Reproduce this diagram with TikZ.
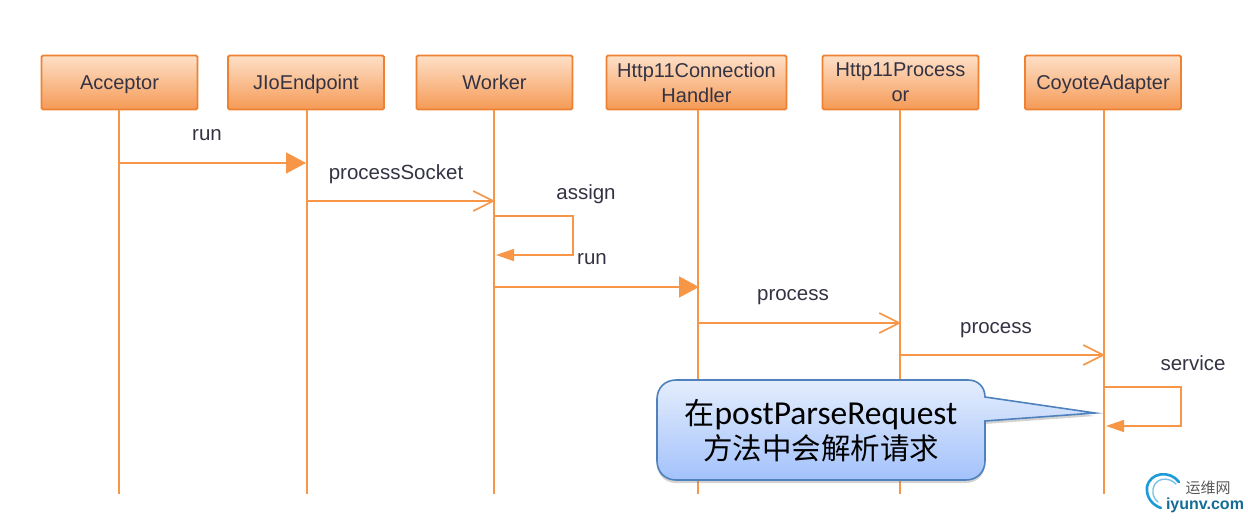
\documentclass[tikz,border=0pt]{standalone}
\usepackage{xcolor}
\usepackage{fontspec}
\setmainfont{Liberation Sans}
\newfontfamily\cjk{Noto Sans CJK SC}
\newfontfamily\callfont{Carlito}
\usetikzlibrary{arrows.meta,shadows}
\definecolor{lifeorange}{HTML}{F79646}
\definecolor{boxedge}{HTML}{EE8232}
\definecolor{boxtop}{HTML}{FEE0C8}
\definecolor{boxbottom}{HTML}{F59A55}
\definecolor{labelgray}{HTML}{333344}
\definecolor{noteedge}{HTML}{4F81BD}
\definecolor{notetop}{HTML}{E4EDFD}
\definecolor{notebottom}{HTML}{A3C2FB}
\definecolor{logoblue}{HTML}{1C9BD8}
\tikzset{
	classbox/.style={draw=boxedge,line width=1.8pt,rounded corners=1.5pt,top color=boxtop,bottom color=boxbottom,
		minimum height=54pt,inner sep=0pt,align=center,text=labelgray,font=\fontsize{20}{25}\selectfont},
	onelinebox/.style={classbox,execute at begin node={\rule[-4.5pt]{0pt}{23.5pt}}},
	twolinebox/.style={classbox,execute at begin node={\rule{0pt}{20pt}}},
	lifeline/.style={draw=lifeorange,line width=1.6pt},
	syncmsg/.style={draw=lifeorange,line width=1.6pt,-{Triangle[length=20pt,width=21pt]}},
	asyncmsg/.style={draw=lifeorange,line width=1.6pt,-{Straight Barb[length=20pt,width=20pt,line width=1.6pt]}},
	selfmsg/.style={draw=lifeorange,line width=1.6pt,-{Triangle[length=18pt,width=12pt]}},
	msglabel/.style={text=labelgray,font=\fontsize{20.5}{24}\selectfont,inner sep=0pt}
}
\begin{document}
\begin{tikzpicture}[x=1pt,y=-1pt]
	\useasboundingbox (0,0) rectangle (1248,521);
	
	% Define the class boxes
	\node[onelinebox,minimum width=156pt] (acceptor) at (119.5,82.5) {Acceptor};
	\node[onelinebox,minimum width=156pt] (endpoint) at (306,82.5) {JIoEndpoint};
	\node[onelinebox,minimum width=156pt] (worker) at (494.5,82.5) {Worker};
	\node[twolinebox,minimum width=180pt] (handler) at (696.5,82.5) {Http11Connection\\Handler};
	\node[twolinebox,minimum width=156pt] (processor) at (900.5,82.5) {Http11Process\\or};
	\node[onelinebox,minimum width=156pt] (adapter) at (1103,82.5) {CoyoteAdapter};
	
	% Define the life lines
	\coordinate (acceptorEnd) at (119,494);
	\coordinate (endpointEnd) at (307,494);
	\coordinate (workerEnd) at (494,494);
	\coordinate (handlerEnd) at (698,494);
	\coordinate (processorEnd) at (900,494);
	\coordinate (adapterEnd) at (1104,494);
	\draw[lifeline] (119,110)--(acceptorEnd);
	\draw[lifeline] (307,110)--(endpointEnd);
	\draw[lifeline] (494,110)--(workerEnd);
	\draw[lifeline] (698,110)--(handlerEnd);
	\draw[lifeline] (900,110)--(processorEnd);
	\draw[lifeline] (1104,110)--(adapterEnd);
	
	% Draw the messages
	\coordinate (runA) at (119,163);
	\coordinate (runB) at (306,163);
	\coordinate (socketA) at (307,201);
	\coordinate (socketB) at (495,201);
	\coordinate (assignA) at (494,216);
	\coordinate (assignB) at (496,255);
	\coordinate (callA) at (494,287);
	\coordinate (callB) at (699,287);
	\coordinate (procA) at (698,323);
	\coordinate (procB) at (901,323);
	\coordinate (adaptA) at (900,355);
	\coordinate (adaptB) at (1105,355);
	\coordinate (serviceA) at (1104,387);
	\coordinate (serviceB) at (1106,426);
	\draw[syncmsg] (runA)--(runB);
	\draw[asyncmsg] (socketA)--(socketB);
	\draw[selfmsg] (assignA)-|(573,255)--(assignB);
	\draw[syncmsg] (callA)--(callB);
	\draw[asyncmsg] (procA)--(procB);
	\draw[asyncmsg] (adaptA)--(adaptB);
	\draw[selfmsg] (serviceA)-|(1181,426)--(serviceB);
	
	% Label the messages
	\node[msglabel] (runText) at (207,135) {run};
	\node[msglabel] (socketText) at (396,174) {processSocket};
	\node[msglabel] (assignText) at (586,194) {assign};
	\node[msglabel] (againText) at (592,259) {run};
	\node[msglabel] (procText) at (793,297) {process};
	\node[msglabel] (adaptText) at (996,330) {process};
	\node[msglabel] (serviceText) at (1193,363) {service};
	
	% Draw the note
	\path[draw=noteedge,line width=1.6pt,top color=notetop,bottom color=notebottom,
		drop shadow={shadow xshift=0pt,shadow yshift=-3pt,opacity=.35}]
		(676,380)--(968,380) .. controls (978,380) and (985,387) .. (985,397)
		--(1095,413)--(985,421)--(985,461) .. controls (985,472) and (977,480) .. (966,480)
		--(676,480) .. controls (665,480) and (657,472) .. (657,461)
		--(657,399) .. controls (657,388) and (665,380) .. (676,380)--cycle;
	\node[align=center,inner sep=0pt,font=\fontsize{30}{35}\selectfont] (noteText) at (821,430.5)
		{{\cjk 在}{\callfont\fontsize{33.5}{35}\selectfont postParseRequest}\\{\cjk\fontsize{29.5}{35}\selectfont 方法中会解析请求}};
	
	% Draw the logo
	\draw[logoblue,line width=2.6pt,line cap=round] (1179,482) .. controls (1170,470) and (1150,472) .. (1147,487) .. controls (1146,497) and (1152,505) .. (1161,508);
	\draw[logoblue!60,line width=1.4pt,line cap=round] (1176,484) .. controls (1168,476) and (1155,478) .. (1153,489) .. controls (1152,495) and (1155,500) .. (1158,502);
	\node[inner sep=0pt,text=black!65,font=\fontsize{15}{18}\selectfont\cjk] (logoCn) at (1208,488) {运维网};
	\node[inner sep=0pt,text=logoblue!70!black,font=\bfseries\fontsize{16}{18}\selectfont] (logoEn) at (1205,505) {iyunv.com};
	
\end{tikzpicture}
\end{document}
